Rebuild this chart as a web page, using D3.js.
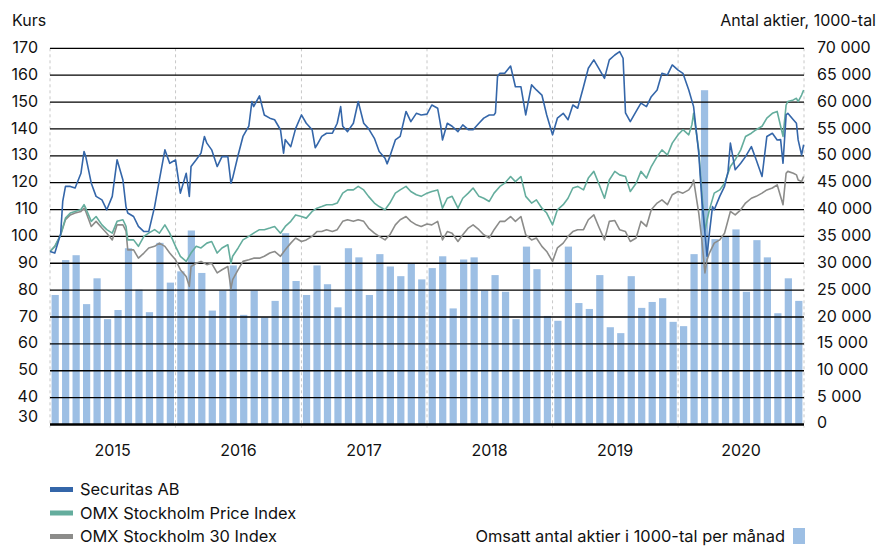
<!DOCTYPE html>
<head>
  <meta charset="utf-8">
  <style>
  body {
    margin: 0;
    background: #fff;
  }

  text {
    font-family: Inter, 'Noto Sans', sans-serif;
    font-size: 16px;
    fill: #111;
  }

  .legend-text {
    font-size: 16.4px;
  }

  .grid line {
    stroke: #000;
    stroke-width: 1.3;
  }

  .year-line {
    stroke: #c8c8c8;
    stroke-dasharray: 3,3;
  }

  .series {
    fill: none;
    stroke-width: 1.6;
    stroke-linejoin: round;
  }
  </style>
</head>
<body>
  <svg id="chart"></svg>

  <script src="https://d3js.org/d3.v7.min.js"></script>
  <script>

  var width = 878,
      height = 546;

  // Monthly turnover, thousands of shares (Jan 2015 - Dec 2020)
  var turnover = [
    24100, 30600, 31500, 22400, 27200, 19600, 21300, 32800, 25100, 20900, 33800, 26400,
    28500, 36100, 28200, 21200, 24900, 29600, 20400, 24900, 19900, 23000, 35600, 26700,
    24100, 29600, 26100, 21800, 32800, 31100, 24100, 31700, 29400, 27600, 29900, 27000,
    29100, 31300, 21600, 30700, 31100, 24900, 27800, 24700, 19600, 33100, 28900, 20200,
    19300, 33100, 22600, 21500, 27800, 18100, 17000, 27600, 21700, 22800, 23500, 19100,
    18300, 31700, 62200, 34500, 34900, 36300, 24700, 34300, 31100, 20700, 27200, 23000
  ];

  var securitas = [
    ["2015-01-01",94.4],["2015-01-15",93.8],["2015-02-01",101],["2015-02-07",113],["2015-02-15",118.6],["2015-03-01",118.6],["2015-03-15",118],["2015-04-01",123.5],["2015-04-10",131.6],["2015-04-15",129.7],["2015-05-01",119.8],["2015-05-15",114.9],["2015-06-01",113.6],["2015-06-15",109.9],["2015-07-01",114.9],["2015-07-15",128.5],["2015-08-01",121],["2015-08-10",111],["2015-08-15",108.7],["2015-09-01",107.4],["2015-09-15",103.7],["2015-10-01",101.8],["2015-10-15",101.8],["2015-11-01",111],["2015-11-15",121],["2015-12-01",132.2],["2015-12-15",127.2],
    ["2016-01-01",128.5],["2016-01-15",116.1],["2016-02-01",123.5],["2016-02-10",114.9],["2016-02-15",126],["2016-03-01",128.5],["2016-03-15",131],["2016-03-25",137.2],["2016-04-01",134.7],["2016-04-15",132.2],["2016-05-01",126],["2016-05-15",129.7],["2016-06-01",129.7],["2016-06-10",119.8],["2016-06-15",121.7],["2016-07-01",130.3],["2016-07-15",137.2],["2016-08-01",141],["2016-08-10",150.2],["2016-08-15",148.3],["2016-09-01",152.3],["2016-09-15",145.2],["2016-10-01",144],["2016-10-15",143.4],["2016-11-01",139.7],["2016-11-10",131],["2016-11-15",136],["2016-12-01",133.4],["2016-12-15",140.1],
    ["2017-01-01",145.2],["2017-01-15",142.1],["2017-02-01",139.7],["2017-02-10",133],["2017-02-15",134],["2017-03-01",137.2],["2017-03-15",138.4],["2017-04-01",138.4],["2017-04-15",142.1],["2017-04-25",148.3],["2017-05-01",141],["2017-05-15",139],["2017-06-01",142.1],["2017-06-15",150.2],["2017-07-01",142.1],["2017-07-15",140.1],["2017-08-01",136.5],["2017-08-15",131.6],["2017-09-01",129.1],["2017-09-07",127],["2017-09-15",129.7],["2017-10-01",135.9],["2017-10-15",137.2],["2017-11-01",146.5],["2017-11-15",142.7],["2017-12-01",145.8],["2017-12-15",145.2],
    ["2018-01-01",145.5],["2018-01-15",148.9],["2018-02-01",147.7],["2018-02-10",141],["2018-02-15",135.9],["2018-03-01",142.1],["2018-03-15",141],["2018-04-01",139],["2018-04-15",141.5],["2018-05-01",139.7],["2018-05-15",139.7],["2018-06-01",142.1],["2018-06-15",144],["2018-07-01",145.2],["2018-07-15",145.2],["2018-07-19",146],["2018-07-25",159.5],["2018-08-01",160.7],["2018-08-15",160.7],["2018-09-01",163.4],["2018-09-15",155.7],["2018-10-01",155.7],["2018-10-15",145.2],["2018-11-01",156.4],["2018-11-15",154.5],["2018-12-01",152.6],["2018-12-15",145.2],
    ["2019-01-01",137.8],["2019-01-15",144],["2019-02-01",145.8],["2019-02-15",143.4],["2019-03-01",148.9],["2019-03-15",147.7],["2019-04-01",155.7],["2019-04-15",162.6],["2019-05-01",165.7],["2019-05-15",162.6],["2019-06-01",158.8],["2019-06-15",165.7],["2019-07-01",167.5],["2019-07-15",168.8],["2019-07-25",166.3],["2019-08-01",146],["2019-08-15",142.7],["2019-09-01",146.5],["2019-09-15",149.6],["2019-10-01",148.3],["2019-10-15",152],["2019-11-01",154.5],["2019-11-15",160.7],["2019-12-01",160.1],["2019-12-15",163.8],
    ["2020-01-01",161.9],["2020-01-15",160.7],["2020-02-01",154.5],["2020-02-15",148.3],["2020-03-01",131],["2020-03-10",113.6],["2020-03-19",101.2],["2020-03-25",92.6],["2020-04-01",101.2],["2020-04-10",111.1],["2020-04-15",109.9],["2020-05-01",114.9],["2020-05-15",118.6],["2020-05-25",124],["2020-06-01",134.7],["2020-06-15",124.8],["2020-07-01",127.2],["2020-07-15",129.7],["2020-08-01",133.4],["2020-08-15",128.5],["2020-09-01",122.3],["2020-09-15",137.2],["2020-10-01",138.4],["2020-10-15",135.9],["2020-10-25",136],["2020-11-01",127.2],["2020-11-10",145.2],["2020-11-15",145.8],["2020-12-01",143.4],["2020-12-10",142.1],["2020-12-15",135.9],["2020-12-25",130.3],["2020-12-31",134.1]
  ];

  var omxPI = [
    ["2015-01-01",94.4],["2015-01-15",96.3],["2015-02-01",100.6],["2015-02-15",106.8],["2015-03-01",108.7],["2015-03-15",109.3],["2015-04-01",110],["2015-04-10",111.8],["2015-04-15",110.5],["2015-05-01",105.6],["2015-05-15",107.4],["2015-06-01",104.3],["2015-06-15",102.5],["2015-07-01",101.2],["2015-07-15",105.6],["2015-08-01",106.2],["2015-08-10",103.7],["2015-08-15",98.7],["2015-09-01",98.7],["2015-09-15",96.3],["2015-10-01",100],["2015-10-15",101.2],["2015-11-01",102.5],["2015-11-15",101.2],["2015-12-01",104.3],["2015-12-15",101.2],
    ["2016-01-01",96.3],["2016-01-15",92.6],["2016-02-01",90.7],["2016-02-15",93.8],["2016-03-01",96.3],["2016-03-15",95.7],["2016-04-01",97.5],["2016-04-15",98.1],["2016-05-01",93.8],["2016-05-15",95.7],["2016-06-01",96.9],["2016-06-10",90],["2016-06-15",92.6],["2016-07-01",95.7],["2016-07-15",98.7],["2016-08-01",100],["2016-08-15",101.2],["2016-09-01",102.5],["2016-09-15",102.5],["2016-10-01",103.1],["2016-10-15",103.7],["2016-11-01",101.2],["2016-11-15",103.7],["2016-12-01",105.6],["2016-12-15",108],
    ["2017-01-01",107.4],["2017-01-15",106.8],["2017-02-01",109.3],["2017-02-15",110.5],["2017-03-01",111.1],["2017-03-15",111.8],["2017-04-01",111.8],["2017-04-15",112.4],["2017-05-01",116.1],["2017-05-15",117.3],["2017-06-01",117.3],["2017-06-15",118.6],["2017-07-01",117.3],["2017-07-15",114.9],["2017-08-01",112.4],["2017-08-15",111.1],["2017-09-01",109.9],["2017-09-15",112.4],["2017-10-01",116.1],["2017-10-15",117.3],["2017-11-01",118.6],["2017-11-15",116.7],["2017-12-01",115.5],["2017-12-15",114.9],
    ["2018-01-01",116.1],["2018-01-15",116.7],["2018-02-01",117.3],["2018-02-15",110.5],["2018-03-01",114.2],["2018-03-15",114.9],["2018-04-01",110.5],["2018-04-15",114.2],["2018-05-01",116.1],["2018-05-15",118],["2018-06-01",114.9],["2018-06-15",114.2],["2018-07-01",113],["2018-07-15",116.1],["2018-08-01",118.6],["2018-08-15",119.8],["2018-09-01",122.3],["2018-09-15",120.4],["2018-10-01",122.3],["2018-10-15",114.9],["2018-11-01",112.4],["2018-11-15",113.6],["2018-12-01",110.5],["2018-12-15",108.7],
    ["2019-01-01",104.3],["2019-01-15",109.9],["2019-02-01",111.8],["2019-02-15",114.2],["2019-03-01",118],["2019-03-15",118.6],["2019-04-01",117.3],["2019-04-15",121.7],["2019-05-01",124.2],["2019-05-15",119.8],["2019-06-01",114.2],["2019-06-15",121],["2019-07-01",124.2],["2019-07-15",122.9],["2019-08-01",122.3],["2019-08-15",116.7],["2019-09-01",119.8],["2019-09-15",124.2],["2019-10-01",121.7],["2019-10-15",126],["2019-11-01",129.7],["2019-11-15",132.2],["2019-12-01",130.3],["2019-12-15",134.7],
    ["2020-01-01",137.8],["2020-01-15",139.7],["2020-02-01",137.8],["2020-02-10",141.5],["2020-02-15",145.8],["2020-03-01",132.2],["2020-03-10",116.1],["2020-03-19",102],["2020-03-25",106],["2020-04-01",109.9],["2020-04-15",116.1],["2020-05-01",117.3],["2020-05-15",119.8],["2020-06-01",126],["2020-06-15",128.5],["2020-07-01",132.2],["2020-07-15",137.2],["2020-08-01",138.4],["2020-08-15",139.7],["2020-09-01",141],["2020-09-15",144],["2020-10-01",145.8],["2020-10-15",146.5],["2020-11-01",137.2],["2020-11-10",148.9],["2020-11-15",150.2],["2020-12-01",150.8],["2020-12-10",151.4],["2020-12-15",150.2],["2020-12-25",152.6],["2020-12-31",154.5]
  ];

  var omx30 = [
    ["2015-01-01",94.4],["2015-01-15",96.3],["2015-02-01",100.6],["2015-02-15",106.2],["2015-03-01",108],["2015-03-15",108.7],["2015-04-01",109.3],["2015-04-10",110.5],["2015-04-15",109.3],["2015-05-01",103.7],["2015-05-15",105.6],["2015-06-01",103.1],["2015-06-15",101.2],["2015-07-01",98.7],["2015-07-15",104.3],["2015-08-01",104.3],["2015-08-10",102],["2015-08-15",95],["2015-09-01",95],["2015-09-15",91.9],["2015-10-01",93.8],["2015-10-15",95.7],["2015-11-01",96.3],["2015-11-15",97.5],["2015-12-01",96.3],["2015-12-15",93.8],
    ["2016-01-01",91.3],["2016-01-15",87.6],["2016-02-01",85.1],["2016-02-10",81.4],["2016-02-15",88.8],["2016-03-01",90],["2016-03-15",90.7],["2016-04-01",89.5],["2016-04-15",90],["2016-05-01",86.4],["2016-05-15",87.6],["2016-06-01",88.8],["2016-06-10",80.5],["2016-06-15",83.9],["2016-07-01",87.6],["2016-07-15",90.7],["2016-08-01",91.3],["2016-08-15",91.9],["2016-09-01",91.9],["2016-09-15",92.6],["2016-10-01",93.8],["2016-10-15",94.4],["2016-11-01",92.6],["2016-11-15",95],["2016-12-01",97.5],["2016-12-15",99.4],
    ["2017-01-01",98.1],["2017-01-15",98.7],["2017-02-01",100],["2017-02-15",101.8],["2017-03-01",101.8],["2017-03-15",102.5],["2017-04-01",101.8],["2017-04-15",102.5],["2017-05-01",105.6],["2017-05-15",106.2],["2017-06-01",105.6],["2017-06-15",106.2],["2017-07-01",105.6],["2017-07-15",103.1],["2017-08-01",101.2],["2017-08-15",100],["2017-09-01",98.7],["2017-09-15",100.6],["2017-10-01",104.3],["2017-10-15",106.2],["2017-11-01",107.4],["2017-11-15",105.6],["2017-12-01",104.3],["2017-12-15",103.7],
    ["2018-01-01",104.6],["2018-01-15",104.3],["2018-02-01",105.6],["2018-02-15",98.7],["2018-03-01",101.8],["2018-03-15",101.2],["2018-04-01",98.1],["2018-04-15",100.6],["2018-05-01",103.1],["2018-05-15",104.3],["2018-06-01",102.5],["2018-06-15",100.6],["2018-07-01",99.4],["2018-07-15",102.5],["2018-08-01",105.6],["2018-08-15",105.6],["2018-09-01",107.4],["2018-09-15",105.6],["2018-10-01",107.4],["2018-10-15",100.6],["2018-11-01",98.7],["2018-11-15",99.4],["2018-12-01",96.3],["2018-12-15",94.4],
    ["2019-01-01",90.7],["2019-01-15",95.7],["2019-02-01",97.5],["2019-02-15",100],["2019-03-01",101.8],["2019-03-15",102.5],["2019-04-01",102.5],["2019-04-15",106.2],["2019-05-01",108],["2019-05-15",103.7],["2019-06-01",98.7],["2019-06-15",105.6],["2019-07-01",105.9],["2019-07-15",102.5],["2019-08-01",101.8],["2019-08-15",98.1],["2019-09-01",99.4],["2019-09-15",105.6],["2019-10-01",103.7],["2019-10-15",109.9],["2019-11-01",112.4],["2019-11-15",113.6],["2019-12-01",111.8],["2019-12-15",115.5],
    ["2020-01-01",116.7],["2020-01-15",116.1],["2020-02-01",117.3],["2020-02-10",119],["2020-02-15",121],["2020-03-01",108.7],["2020-03-10",98.7],["2020-03-19",86.4],["2020-03-25",91.3],["2020-04-01",93.8],["2020-04-15",97.5],["2020-05-01",98.7],["2020-05-15",101.2],["2020-06-01",109.3],["2020-06-15",108],["2020-07-01",109.9],["2020-07-15",112.4],["2020-08-01",114.2],["2020-08-15",114.9],["2020-09-01",116.1],["2020-09-15",117.3],["2020-10-01",118],["2020-10-15",119.2],["2020-11-01",111.8],["2020-11-10",123.5],["2020-11-15",124.2],["2020-12-01",123.5],["2020-12-10",122.9],["2020-12-15",121],["2020-12-25",120.4],["2020-12-31",122.3]
  ];

  var leftTicks = [30, 40, 50, 60, 70, 80, 90, 100, 110, 120, 130, 140, 150, 160, 170];
  var rightTicks = [0, 5000, 10000, 15000, 20000, 25000, 30000, 35000, 40000, 45000, 50000, 55000, 60000, 65000, 70000];
  var years = [2015, 2016, 2017, 2018, 2019, 2020];

  var legendItems = [
    {name: 'Securitas AB', color: '#3466a9'},
    {name: 'OMX Stockholm Price Index', color: '#64ad9d'},
    {name: 'OMX Stockholm 30 Index', color: '#8c8c8a'}
  ];

  var parseDate = d3.timeParse('%Y-%m-%d');
  var months = d3.timeMonths(new Date(2015, 0, 1), new Date(2021, 0, 1));

  var x0 = 50, x1 = 804, yTop = 48.3, yBottom = 424.5;

  var x = d3.scaleTime()
    .domain([new Date(2015, 0, 1), new Date(2021, 0, 1)])
    .range([x0, x1]);

  var xBand = d3.scaleBand()
    .domain(months)
    .range([x0, x1])
    .paddingInner(0.31)
    .paddingOuter(0.15);

  var yLeft = d3.scaleLinear().domain([30, 170]).range([yBottom, yTop]);
  var yRight = d3.scaleLinear().domain([0, 70000]).range([yBottom, yTop]);

  var fmt = d3.formatLocale({decimal: ',', thousands: ' ', grouping: [3], currency: ['', '']}).format(',d');

  var svg = d3.select('#chart')
    .attr('width', width)
    .attr('height', height);

  // Year separators
  svg.append('g')
    .selectAll('line')
    .data(years.concat([2021]))
    .enter().append('line')
      .attr('class', 'year-line')
      .attr('x1', function(d) { return x(new Date(d, 0, 1)); })
      .attr('x2', function(d) { return x(new Date(d, 0, 1)); })
      .attr('y1', yTop)
      .attr('y2', yBottom + 3);

  // Bars
  svg.append('g')
    .selectAll('rect')
    .data(turnover)
    .enter().append('rect')
      .attr('x', function(d, i) { return xBand(months[i]); })
      .attr('width', xBand.bandwidth())
      .attr('y', function(d) { return yRight(d); })
      .attr('height', function(d) { return yBottom - yRight(d); })
      .attr('fill', '#9dbfe4');

  // Horizontal grid
  svg.append('g')
    .attr('class', 'grid')
    .selectAll('line')
    .data(leftTicks.slice(1))
    .enter().append('line')
      .attr('x1', x0)
      .attr('x2', x1)
      .attr('y1', function(d) { return yLeft(d); })
      .attr('y2', function(d) { return yLeft(d); });

  svg.append('line')
    .attr('x1', x0)
    .attr('x2', x1)
    .attr('y1', yBottom)
    .attr('y2', yBottom)
    .attr('stroke', '#000')
    .attr('stroke-width', 2.5);

  // Lines
  var line = d3.line()
    .x(function(d) { return x(parseDate(d[0])); })
    .y(function(d) { return yLeft(d[1]); });

  [[omx30, legendItems[2].color], [omxPI, legendItems[1].color], [securitas, legendItems[0].color]]
    .forEach(function(s) {
      svg.append('path')
        .attr('class', 'series')
        .attr('d', line(s[0]))
        .attr('stroke', s[1]);
    });

  // Left axis labels
  svg.append('g')
    .selectAll('text')
    .data(leftTicks)
    .enter().append('text')
      .attr('x', 38)
      .attr('y', function(d) { return yLeft(d) + (d === 30 ? -8 : -1); })
      .attr('dy', '0.35em')
      .attr('text-anchor', 'end')
      .text(function(d) { return d; });

  // Right axis labels
  svg.append('g')
    .selectAll('text')
    .data(rightTicks)
    .enter().append('text')
      .attr('x', 817)
      .attr('y', function(d) { return yRight(d) + (d === 0 ? -2 : -1); })
      .attr('dy', '0.35em')
      .text(function(d) { return fmt(d); });

  svg.append('text')
    .attr('x', 12)
    .attr('y', 26)
    .text('Kurs');

  svg.append('text')
    .attr('x', 876)
    .attr('y', 26)
    .attr('text-anchor', 'end')
    .text('Antal aktier, 1000-tal');

  // Year labels
  svg.append('g')
    .selectAll('text')
    .data(years)
    .enter().append('text')
      .attr('x', function(d) { return x(new Date(d, 6, 2)); })
      .attr('y', 456)
      .attr('text-anchor', 'middle')
      .text(function(d) { return d; });

  // Legend
  var legend = svg.append('g')
    .selectAll('g')
    .data(legendItems)
    .enter().append('g')
      .attr('transform', function(d, i) { return 'translate(0,' + (489.5 + i * 23.5) + ')'; });

  legend.append('rect')
    .attr('x', 50)
    .attr('y', -2.5)
    .attr('width', 23)
    .attr('height', 5)
    .attr('fill', function(d) { return d.color; });

  legend.append('text')
    .attr('class', 'legend-text')
    .attr('x', 80)
    .attr('dy', '0.35em')
    .text(function(d) { return d.name; });

  svg.append('text')
    .attr('class', 'legend-text')
    .attr('x', 785)
    .attr('y', 536.5)
    .attr('dy', '0.35em')
    .attr('text-anchor', 'end')
    .text('Omsatt antal aktier i 1000-tal per månad');

  svg.append('rect')
    .attr('x', 793)
    .attr('y', 528)
    .attr('width', 12)
    .attr('height', 16)
    .attr('fill', '#9dbfe4');

  </script>
</body>
